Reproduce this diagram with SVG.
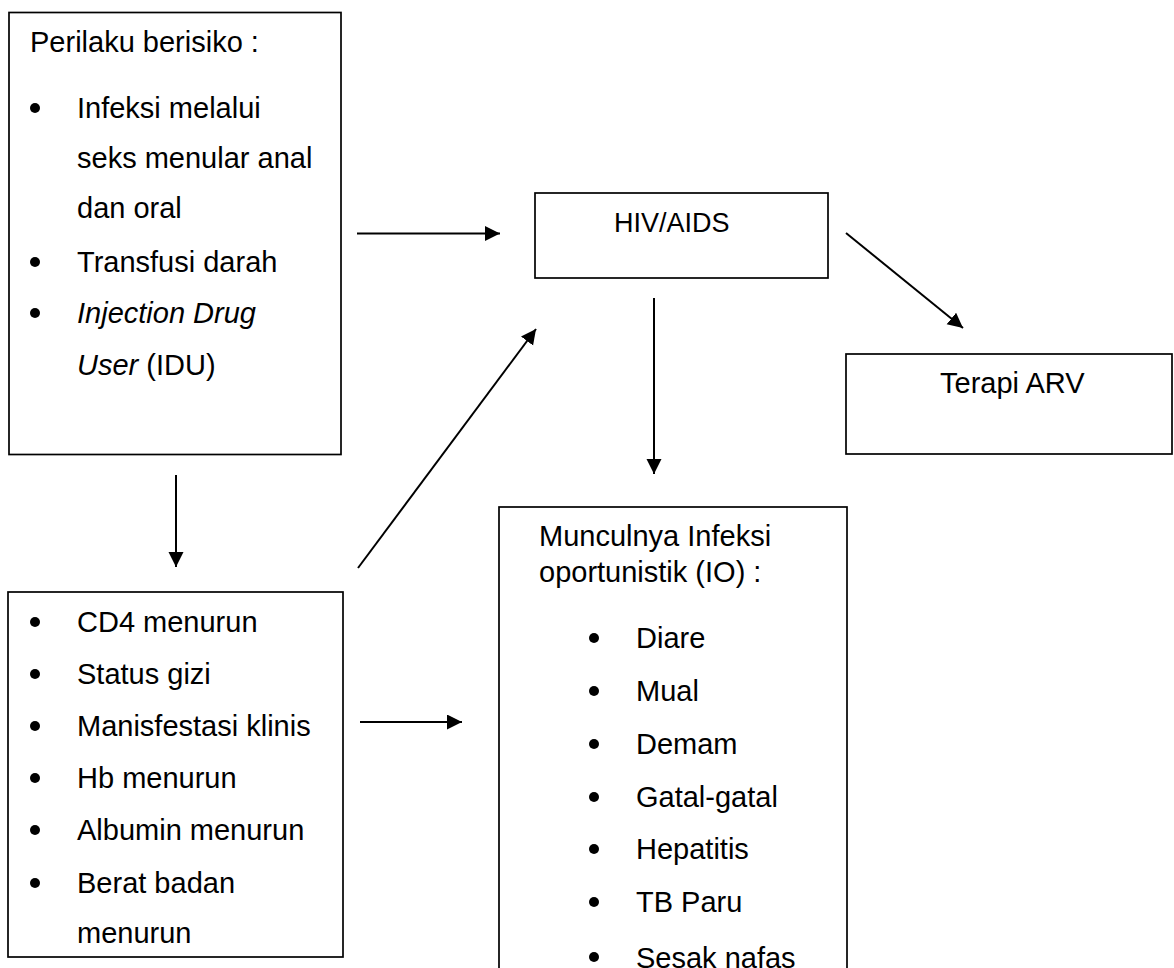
<svg xmlns="http://www.w3.org/2000/svg" width="1174" height="968" viewBox="0 0 1174 968">
<defs>
<style>
.box{fill:#fff;stroke:#000;stroke-width:1.7}
.t{font-family:"Liberation Sans",Arial,sans-serif;font-size:29px;fill:#000}
.it{font-style:italic}
.b{fill:#000}
.c{stroke:#000;stroke-width:2;fill:none;marker-end:url(#ah)}
</style>
<marker id="ah" markerUnits="userSpaceOnUse" markerWidth="16" markerHeight="16" refX="15" refY="7.5" orient="auto">
<path d="M0,0 L15,7.5 L0,15 z" fill="#000"/>
</marker>
</defs>
<rect width="1174" height="968" fill="#fff"/>
<g id="connectors">
<line class="c" x1="357" y1="233.5" x2="500" y2="233.5"/>
<line class="c" x1="846" y1="233" x2="963" y2="328"/>
<line class="c" x1="654" y1="298" x2="654" y2="474"/>
<line class="c" x1="176" y1="475" x2="176" y2="567"/>
<line class="c" x1="358" y1="568" x2="536" y2="329"/>
<line class="c" x1="360" y1="722" x2="462" y2="722"/>
</g>
<g id="perilaku">
<rect class="box" x="9" y="12.5" width="332" height="442"/>
<text class="t" x="30" y="52">Perilaku berisiko :</text>
<circle class="b" cx="35" cy="108" r="5"/>
<text class="t" x="77" y="118">Infeksi melalui</text>
<text class="t" x="77" y="168">seks menular anal</text>
<text class="t" x="77" y="218">dan oral</text>
<circle class="b" cx="35" cy="262" r="5"/>
<text class="t" x="77" y="272">Transfusi darah</text>
<circle class="b" cx="35" cy="313" r="5"/>
<text class="t it" x="77" y="323">Injection Drug</text>
<text class="t" x="77" y="375"><tspan class="it">User</tspan> (IDU)</text>
</g>
<g id="hiv">
<rect class="box" x="535" y="193" width="293" height="85"/>
<text class="t" x="614" y="232" style="font-size:27px">HIV/AIDS</text>
</g>
<g id="arv">
<rect class="box" x="846" y="354" width="326" height="100"/>
<text class="t" x="940" y="393">Terapi ARV</text>
</g>
<g id="faktor">
<rect class="box" x="8" y="592" width="335" height="365"/>
<circle class="b" cx="35" cy="622" r="5"/>
<text class="t" x="77" y="632">CD4 menurun</text>
<circle class="b" cx="35" cy="674" r="5"/>
<text class="t" x="77" y="684">Status gizi</text>
<circle class="b" cx="35" cy="726" r="5"/>
<text class="t" x="77" y="736">Manisfestasi klinis</text>
<circle class="b" cx="35" cy="778" r="5"/>
<text class="t" x="77" y="788">Hb menurun</text>
<circle class="b" cx="35" cy="830" r="5"/>
<text class="t" x="77" y="840">Albumin menurun</text>
<circle class="b" cx="35" cy="883" r="5"/>
<text class="t" x="77" y="893">Berat badan</text>
<text class="t" x="77" y="943">menurun</text>
</g>
<g id="io">
<rect class="box" x="499" y="507" width="348" height="480"/>
<text class="t" x="539" y="546">Munculnya Infeksi</text>
<text class="t" x="539" y="582">oportunistik (IO) :</text>
<circle class="b" cx="594" cy="638" r="5"/>
<text class="t" x="636" y="648">Diare</text>
<circle class="b" cx="594" cy="691" r="5"/>
<text class="t" x="636" y="701">Mual</text>
<circle class="b" cx="594" cy="744" r="5"/>
<text class="t" x="636" y="754">Demam</text>
<circle class="b" cx="594" cy="797" r="5"/>
<text class="t" x="636" y="807">Gatal-gatal</text>
<circle class="b" cx="594" cy="849" r="5"/>
<text class="t" x="636" y="859">Hepatitis</text>
<circle class="b" cx="594" cy="902" r="5"/>
<text class="t" x="636" y="912">TB Paru</text>
<circle class="b" cx="594" cy="957" r="5"/>
<text class="t" x="636" y="968">Sesak nafas</text>
</g>
</svg>
